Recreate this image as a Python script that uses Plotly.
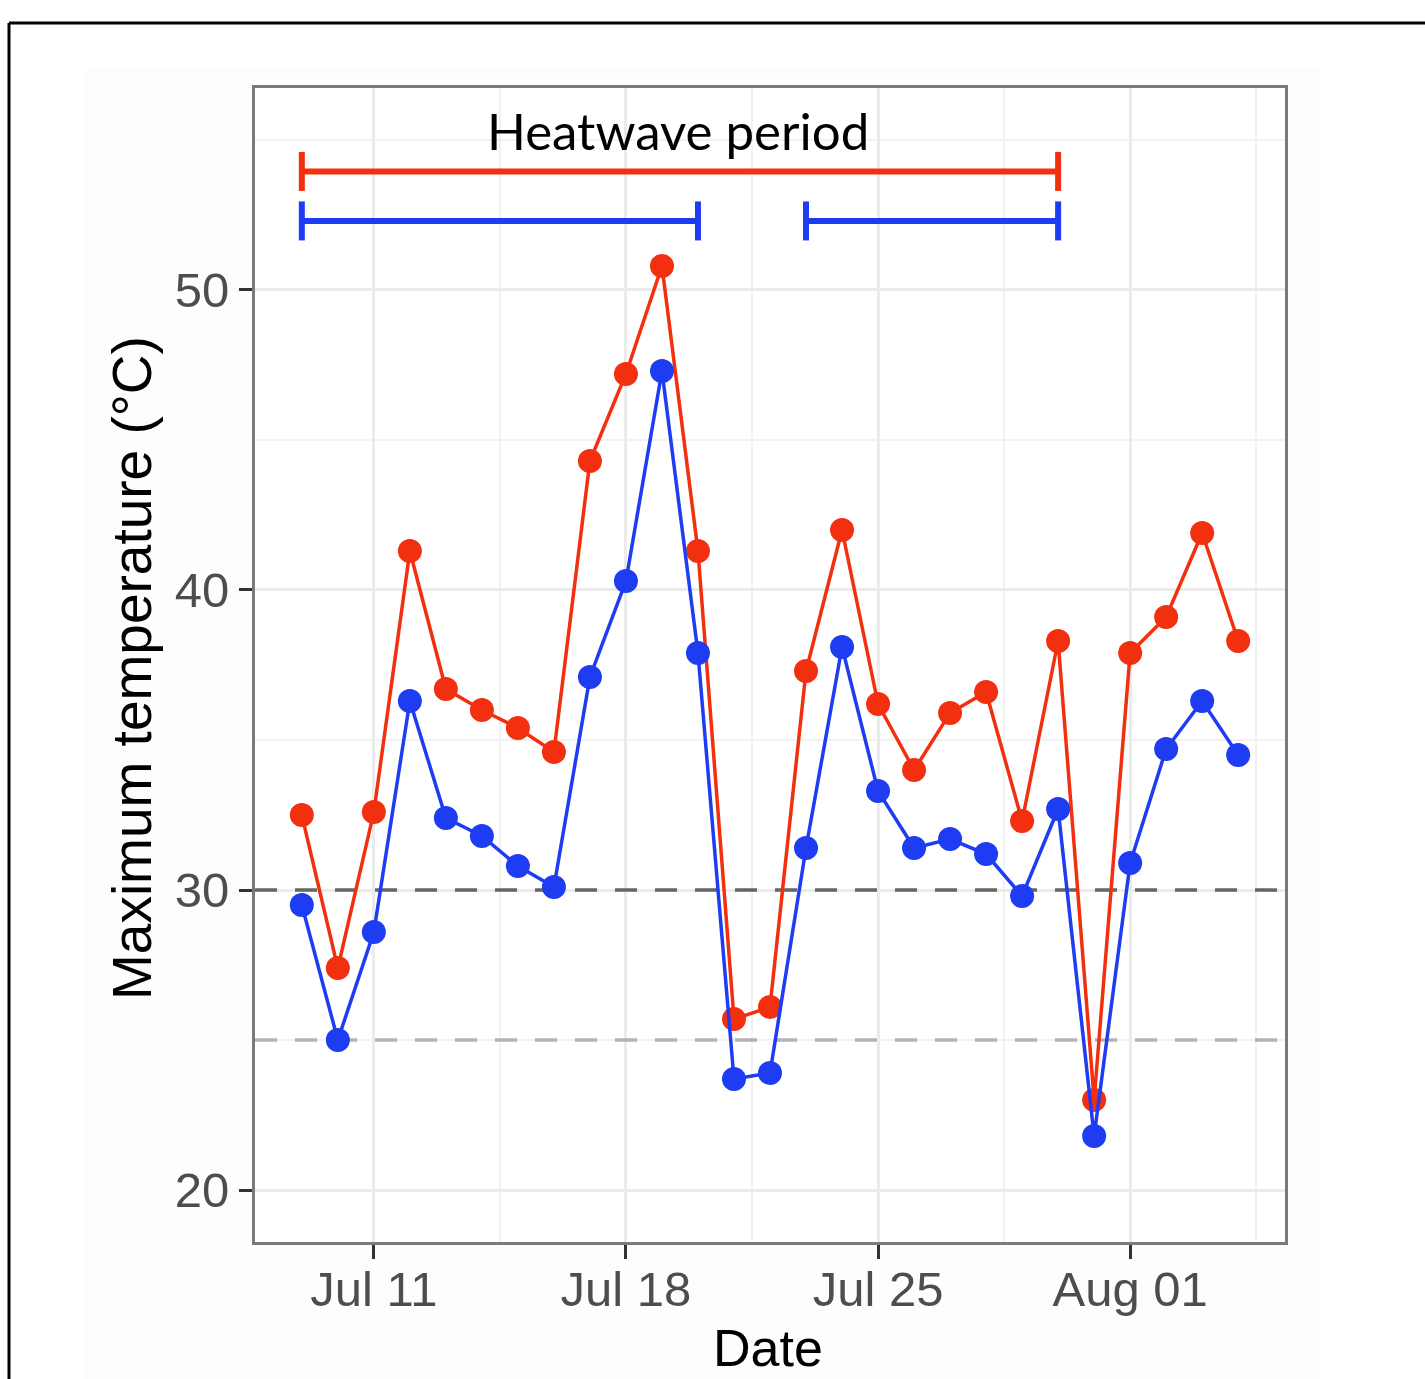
import plotly.graph_objects as go
import pandas as pd

# ---------------- data ----------------
dates = pd.date_range("2022-07-09", "2022-08-04", freq="D")
red_vals = [32.5, 27.4, 32.6, 41.3, 36.7, 36.0, 35.4, 34.6, 44.3, 47.2, 50.8, 41.3,
            25.7, 26.1, 37.3, 42.0, 36.2, 34.0, 35.9, 36.6, 32.3, 38.3, 23.0,
            37.9, 39.1, 41.9, 38.3]
blue_vals = [29.5, 25.0, 28.6, 36.3, 32.4, 31.8, 30.8, 30.1, 37.1, 40.3, 47.3, 37.9,
             23.7, 23.9, 31.4, 38.1, 33.3, 31.4, 31.7, 31.2, 29.8, 32.7, 21.8,
             30.9, 34.7, 36.3, 34.5]
red_periods = [("2022-07-09", "2022-07-30")]
red_period_level = 53.95
blue_periods = [("2022-07-09", "2022-07-20"), ("2022-07-23", "2022-07-30")]
blue_period_level = 52.3
ref_lines = [30, 25]
ref_colors = ["#666666", "#b3b3b3"]
x_ticks = ["2022-07-11", "2022-07-18", "2022-07-25", "2022-08-01"]
x_labels = ["Jul 11", "Jul 18", "Jul 25", "Aug 01"]
y_ticks = [20, 30, 40, 50]
y_minor = [25, 35, 45, 55]

RED = "#F2300F"
BLUE = "#1E3CF2"

L, R, T, B = 255, 1285, 88, 1242
W, H = 1425, 1379


def px(x):
    return (x - L) / (R - L)


def py(y):
    return (B - y) / (B - T)


x0 = pd.Timestamp("2022-07-09") - pd.Timedelta(hours=31.2)
x1 = pd.Timestamp("2022-08-04") + pd.Timedelta(hours=31.2)
x_minor = [pd.Timestamp("2022-07-07 12:00")] + [pd.Timestamp(t) + pd.Timedelta(hours=84) for t in x_ticks]

fig = go.Figure()

# background decoration (drawn first)
fig.add_shape(type="rect", xref="paper", yref="paper", x0=px(85), x1=px(1320), y0=py(1400), y1=py(68),
              fillcolor="#fdfdfd", line=dict(width=0), layer="below")
fig.add_shape(type="rect", xref="paper", yref="paper", x0=0, x1=1, y0=0, y1=1,
              fillcolor="white", line=dict(width=0), layer="below")

# reference dashed lines (as traces spanning the axis range)
for yv, col in zip(ref_lines, ref_colors):
    fig.add_trace(go.Scatter(x=[x0, x1], y=[yv, yv], mode="lines",
                             line=dict(color=col, width=3.5, dash="22px,18px"),
                             showlegend=False, hoverinfo="skip"))


def period_trace(periods, level, color, cap):
    xs, ys = [], []
    for s, e in periods:
        xs += [s, e, None, s, s, None, e, e, None]
        ys += [level, level, None, level - cap, level + cap, None, level - cap, level + cap, None]
    return go.Scatter(x=xs, y=ys, mode="lines", line=dict(color=color, width=6),
                      showlegend=False, hoverinfo="skip")


fig.add_trace(period_trace(red_periods, red_period_level, RED, 0.65))
fig.add_trace(period_trace(blue_periods, blue_period_level, BLUE, 0.65))

fig.add_trace(go.Scatter(x=dates, y=red_vals, mode="lines+markers",
                         line=dict(color=RED, width=3.5), marker=dict(color=RED, size=24),
                         showlegend=False))
fig.add_trace(go.Scatter(x=dates, y=blue_vals, mode="lines+markers",
                         line=dict(color=BLUE, width=3.5), marker=dict(color=BLUE, size=24),
                         showlegend=False))

FONT = "Liberation Sans, Arial, sans-serif"

fig.update_xaxes(
    type="date", range=[x0, x1], tickmode="array", tickvals=x_ticks, ticktext=x_labels,
    ticks="outside", ticklen=14, tickwidth=3, tickcolor="#333333", ticklabelstandoff=-12,
    tickfont=dict(family=FONT, size=49, color="#4d4d4d"),
    showgrid=True, gridcolor="#ebebeb", gridwidth=3,
    minor=dict(tickmode="array", tickvals=x_minor, showgrid=True, gridcolor="#f2f2f2", gridwidth=2, ticklen=0),
    showline=True, linecolor="#7a7a7a", linewidth=3, mirror=True, zeroline=False,
)
fig.update_yaxes(
    range=[18.27, 56.73], tickmode="array", tickvals=y_ticks,
    ticks="outside", ticklen=13, tickwidth=3, tickcolor="#333333",
    tickfont=dict(family=FONT, size=49, color="#4d4d4d"),
    showgrid=True, gridcolor="#ebebeb", gridwidth=3,
    minor=dict(tickmode="array", tickvals=y_minor, showgrid=True, gridcolor="#f2f2f2", gridwidth=2, ticklen=0),
    showline=True, linecolor="#7a7a7a", linewidth=3, mirror=True, zeroline=False,
)

# outer black frame
fig.add_shape(type="line", xref="paper", yref="paper", x0=px(9), x1=px(1440), y0=py(23), y1=py(23),
              line=dict(color="black", width=3))
fig.add_shape(type="line", xref="paper", yref="paper", x0=px(9), x1=px(9), y0=py(23), y1=py(1400),
              line=dict(color="black", width=3))

fig.add_annotation(text="Heatwave period", xref="paper", yref="paper", x=px(678), y=py(130),
                   showarrow=False, xanchor="center", yanchor="middle",
                   font=dict(family="Lato, Open Sans, sans-serif", size=51, color="black"))
fig.add_annotation(text="Date", xref="paper", yref="paper", x=px(768), y=py(1348),
                   showarrow=False, xanchor="center", yanchor="middle",
                   font=dict(family=FONT, size=52, color="black"))
fig.add_annotation(text="Maximum temperature (°C)", xref="paper", yref="paper", x=px(132), y=py(668),
                   showarrow=False, xanchor="center", yanchor="middle", textangle=-90,
                   font=dict(family=FONT, size=55, color="black"))

fig.update_layout(
    width=W, height=H, margin=dict(l=L, r=W - R, t=T, b=H - B),
    paper_bgcolor="white", plot_bgcolor="white", showlegend=False,
)

fig.write_html("out.html")
